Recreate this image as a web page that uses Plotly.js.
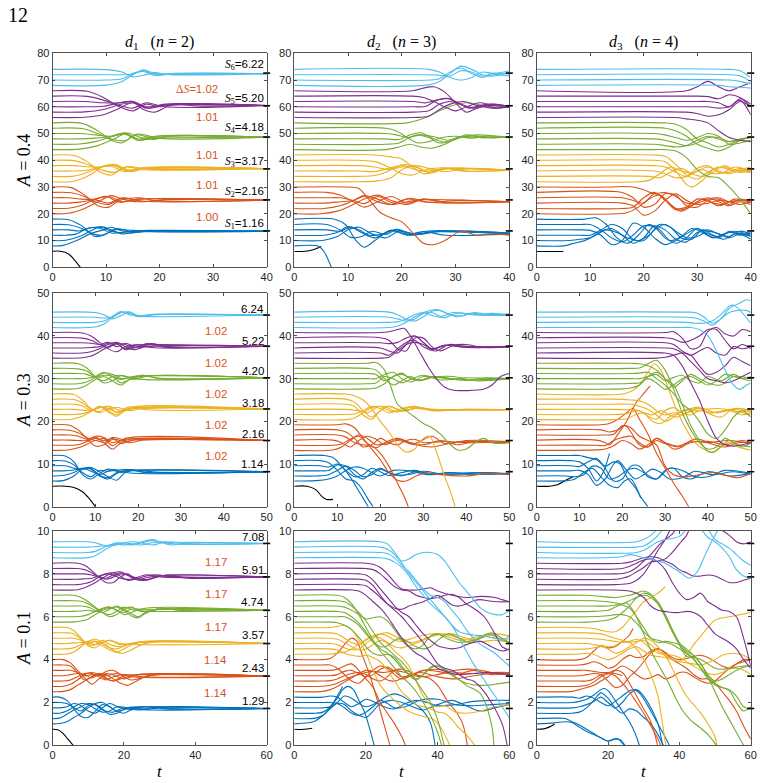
<!DOCTYPE html>
<html><head><meta charset="utf-8">
<script src="https://cdn.plot.ly/plotly-3.0.1.min.js"></script>
<style>html,body{margin:0;padding:0;background:#fff}#chart{width:763px;height:783px}</style>
</head><body><div id="chart"></div>
<script>
// ---------- DATA (each line: flat list t0,y0,t1,y1,...) ----------
// Row 1: d1/d2/d3, A=0.4
const r1c1_black=[[0,6,1.5,6,3,5,4,3,5.2,0]];
const r1c1_blue=[
[0,18,3,17.8,5.5,15.5,8,11.5,10,12.5,12,14.5,15,13.2,19,13.7,25,13.4,40,13.5],
[0,16,3,15.9,5.5,14.5,7.5,12.5,9.5,12,11.5,14,15,13.8,20,13.3,40,13.5],
[0,14,3,14,5,13.6,7,14.8,9,14.5,11,12.8,14,13.3,18,13.8,40,13.5],
[0,12,2.5,12,4.5,12.5,6.5,14.5,9,15,11,13.5,14,12.8,18,13.6,40,13.5],
[0,10,2.5,10.1,5,11.5,7,13.5,9,15.2,11,14,13,12.5,17,13.5,40,13.5],
[0,8,2,8.2,4.5,10,7,12.5,9.5,14,11,15,13,13.6,18,13.3,40,13.5]];
const r1c1_orange=[
[0,30,3.5,29.8,6,27,8.5,23,10.5,22.5,12.5,25,16,26,20,24.8,40,25.1],
[0,28,3.5,27.9,6,26.5,8,24.5,10.5,23.5,13,25.8,17,24.6,22,25.3,40,25.1],
[0,26,3,26,5.5,25.5,8,25.5,10,26.5,12.5,24.3,16,25.5,40,25.1],
[0,24,3,24,5.5,24.5,8,25.2,10.5,24,13,26,17,24.7,40,25.1],
[0,22,3,22.1,5.5,23.2,8,25.5,10.5,26.5,13,24.5,16,25.5,40,25.1],
[0,20,3,20.2,6,22,8.5,24.5,11,26.8,13,25.5,16,24.5,21,25.3,40,25.1]];
const r1c1_yellow=[
[0,42,4,41.8,6.5,39.5,9,35.5,11,34.5,13.5,37.5,17,36.5,40,36.9],
[0,40,4,39.9,6.5,38.5,9,36.5,11.5,35.5,14,37.6,18,36.7,40,36.9],
[0,38,4,38,6.5,37.6,9,37.5,11,37.8,13.5,35.8,17,37.3,40,36.9],
[0,36,4,36,6.5,36.3,9,37.5,11.5,38,14,36,18,37.2,40,36.9],
[0,34,4,34.1,6.5,35.5,9,37.5,11.5,38.5,14,36.5,18,37,40,36.9],
[0,32,4,32.2,7,34.5,9.5,37.8,12,38.2,14.5,35.8,18,37.2,40,36.9]];
const r1c1_green=[
[0,54,5.5,53.8,8.5,51,11,47.5,13,46.5,15.5,49.5,19,48.2,22,49.2,40,48.6],
[0,52,5.5,51.9,8.5,50,11,48,13.5,47.3,16,49.8,20,48.2,40,48.6],
[0,50,5,50,8,49.5,11,49,13.5,49.8,16,47.5,20,49,40,48.6],
[0,48,5,48,8,48.3,11,49,13.5,50.3,16,48,20,49.2,40,48.6],
[0,46,5,46.1,8,47,11,48.8,13.5,50,16,47.5,19,48.2,40,48.6],
[0,44,5,44.2,8.5,45.5,11.5,48,14,50.2,16.5,48.5,19,47.8,22,49,40,48.6]];
const r1c1_purple=[
[0,66,6.5,65.8,9.5,63.5,12.5,60,15,58.5,17.5,61,20,60,23,61,27,60.3,40,60.5],
[0,64,6.5,63.9,9.5,62.5,12.5,60.5,15,59.5,17.5,61.5,21,60,40,60.5],
[0,62,6,62,9.5,61.5,12.5,61.5,15,62,17.5,59.5,21,61,40,60.5],
[0,60,6,60,9.5,60.2,12.5,61.5,15,62,17.5,60,21,60.8,40,60.5],
[0,58,6,58.1,9.5,59,12.5,60.8,15,61.5,18,59.5,22,61,40,60.5],
[0,56,6,56.1,9.5,57,12.5,59.5,15,61.5,17,59,19,58,22,60.5,26,60.8,40,60.5]];
const r1c1_cyan=[
[0,74,10,73.9,13,73,15,71.2,17,71.8,19,72.8,22,72,40,72.4],
[0,72,10,72,13,72,15,72.2,17,73.5,19,72,23,72.5,40,72.4],
[0,70,10,70,13,70.5,15,72.5,17,73.2,19,71.8,23,72.4,40,72.4],
[0,68,10,68.1,13,69.5,15,72,17,73.8,19,72.5,23,72.1,40,72.4]];

const r1c2_black=[[0,5.9,2,6,3.5,6.6,5,7.8]];
const r1c2_blue=[
[0,18,7.5,18,9.5,16,11.5,10,13,7.5,15,10,18,13.8,21,12,24,13.4,28,12,40,12.5],
[0,16,6,16,8.5,14,10.5,11.2,12.5,11.5,14.5,13.5,17,12.3,19,14,22,12,26,13.5,40,12.8],
[0,14,6,14,8.5,13.5,10.5,15,12.5,13,15,11,18,13.8,21,12.3,25,13.6,40,12.8],
[0,12,5.5,12,8,13,10,15.2,12,14,14,12,16.5,12.5,19,14.2,22,12.5,26,13.3,40,12.6],
[0,10,5.5,10.1,8,11.5,10,14,12,15,14.5,12.5,17,11,19.5,13.5,23,12.3,27,13.4,40,12.5],
[0,8,4.5,7.9,5.5,6,6.9,0]];
const r1c2_orange=[
[0,30,10,30,12,29.5,14,25,16,20.5,18,18.5,20,17,22,13,24,9,26,8.5,28,10,31,13.5,34,12,37,12.5,40,12],
[0,28,6,28,8.5,27,11,24.5,13,22.5,15.5,24.5,18,26.5,21,24,24,25.5,28,24.2,40,24.5],
[0,26,6,26,8.5,26,11,25,13,23.8,15.5,26.5,18.5,24,21.5,25.8,25,24.3,40,24.5],
[0,24,5.5,24,8.5,24.5,11,25,13,26.5,15.5,24.5,18,23.5,21,25.5,25,24.3,30,25,40,24.5],
[0,22,5.5,22,8.5,23,11,25,13,26.8,15.5,25.5,18,23.5,21,24.5,24,25.3,40,24.5],
[0,20,5,20,8,21,10.5,23,13,25.5,15.5,27,18,25,21,23.5,24,25.5,28,24.5,40,24.5]];
const r1c2_yellow=[
[0,42,15,42,18,41.3,20,40.5,22,37.5,24,35,26,35.5,28,37,31,36,40,36.3],
[0,40,12,40,15,39.5,17.5,37.5,20,35,22,34.5,24.5,36.5,28,37.2,32,36,40,36.3],
[0,38,12,38,15,37.5,17.5,36.5,20,37.5,22.5,37.5,25,35.5,28,36.8,40,36.3],
[0,36,12,36,15,35.8,17.5,37,20,38,22.5,36.5,25,36,28,37,40,36.3],
[0,34,12,34,15,34.3,17.5,36,20,38.3,22.5,37.8,25,35.5,29,37,40,36.3],
[0,32,12,32,15.5,32.3,18,33.5,20,36.5,22.5,38,25,37,28,35.8,32,36.8,40,36.3]];
const r1c2_green=[
[0,54,21,54,23,55,25,56.5,27,58.5,29.5,60.5,32,61.5,35,60.5,37,59.5,40,60],
[0,52,17,52,19,51,21,48.5,23,46.5,25,47,27.5,48.5,30,49,33,48.3,36,49,40,48.5],
[0,50,17,50,19,49.5,21,48.5,23,49.5,25,48.5,27,46.5,29.5,47.5,32,49.5,35,48.5,40,48.7],
[0,48,17,48,19.5,47.8,21.5,49.5,23.5,50.3,26,48,28,46.8,31,48.5,34,49.5,40,48.5],
[0,46,17,46,19.5,46.5,21.5,48.5,23.5,49.5,26,48.8,28.5,47.5,31,48.8,35,48.5,40,48.7],
[0,44,17,44,19.5,45,21.5,46,23.5,45,25.5,44.5,28,46,30.5,48.5,33,49.2,37,48.4,40,48.7]];
const r1c2_purple=[
[0,66,22,66,24,67,26,67.5,28,65.5,30,61.5,32,58,34,59.5,37,61,40,60],
[0,64,22,64,24,63.5,26,62,28,60,30,58.5,32,60,34.5,61.5,37,60.5,40,60.5],
[0,62,22,62,24.5,61.5,26.5,62.5,28.5,63,30.5,61.5,32.5,59.5,35,60.5,38,59.5,40,60],
[0,60,22,60,24.5,60.2,26.5,62.5,28.5,63.2,31,61,33,59.8,36,61,40,60.2],
[0,58,22,58,25,58.5,27,61,29,62,31,60.8,33.5,59.5,36,60.5,40,59.8],
[0,56,22,56,25,56.5,27,59,29,61,31.5,62,34,60.5,37,59.5,40,60]];
const r1c2_cyan=[
[0,74,25,74,27,73,29,71,31,70,33,71,35,73,37,72.5,40,73.5],
[0,72,25,72,27,71.8,29,71.5,31,73.5,33,73,35,71.5,37,72.5,40,72.2],
[0,70,25,70,27,70.5,29,73,31,74.5,33,72.5,35,71,37,72,40,71.5],
[0,68,25,68.2,27,69.5,29,72.5,31,75.2,33,74,35,72,37,71.5,40,73]];

const r1c3_black=[[0,5.9,5,5.9]];
const r1c3_blue=[
[0,18,9,18,11,18.5,13,16,15,11,17,9,19,12,21,16,23,14,25,10,27,11.5,29,14.5,31,13,33,11,35,12.5,37,13.5,40,12],
[0,16,8,16,10,16,12,14,14,11,16,9.5,18,12,20,15.5,22,15,24,11,26,9,28,11,30,14.5,32,12.5,34,11.5,36,13,38,12.5,40,10.5],
[0,14,8,14,10,13.8,12,12,14,8.5,16,10,18,16.5,20,15,22,11,24,8.5,26,10,28,12.5,30,14.5,32,12,34,11,36,13.5,38,12,40,13],
[0,12,8,12,10,12,12,14,14,16,16,14.5,18,10.5,20,10,22,14,24,16,26,13.5,28,11,30,11.5,32,13.5,34,12.5,36,11,38,12.5,40,11.5],
[0,10,6,10,8,10.5,10,11,12,13.5,14,14.5,16,12,18,9,20,11,22,15.5,24,14,26,10.5,28,9.5,30,13,32,14,34,12.5,36,11.5,38,13.5,40,12.5],
[0,8,5,8,7,9,9,10,11,12,13,14,15,13,17,11,19,10,21,12,23,16,25,15,27,11,29,10.5,31,14,33,12,35,10.5,37,12.5,40,12]];
const r1c3_orange=[
[0,30,14,30,16,30.2,18,30,20,29,22,27.5,24,28,26,26.5,28,24,30,24,32,25.5,34,26,36,24.5,38,25,40,24.5],
[0,28,16,28,18,26,20,22.5,22,23.5,24,27.5,26,27,28,23,30,22.5,32,25,34,25.5,36,23.5,38,25.5,40,24],
[0,26,16,26,18,25,20,24,22,27.5,24,25.5,26,22,28,22.5,30,25.5,32,25,34,23,36,24.5,38,25,40,25.5],
[0,24,16,24,18,23,20,19.5,22,21,24,25,26,27.5,28,25,30,23.5,32,24,34,25,36,24.5,38,23.5,40,24.5],
[0,22,16,22,18,22.5,20,26,22,28,24,25,26,21.5,28,22,30,24.5,32,26,34,24.5,36,23,38,24.5,40,23.5],
[0,20,15,20,17,20.5,19,22.5,21,25.5,23,27,25,23.5,27,21,29,23,31,25.5,33,24,35,23.5,37,25.5,40,24.5]];
const r1c3_yellow=[
[0,42,22,42,24,41.5,26,38.5,28,34.5,30,33,32,35.5,34,37.5,36,36.5,38,35.5,40,36.5],
[0,40,22,40,24,39.5,26,36,28,31,29,30,31,32.5,33,36.5,35,37.5,37,36,40,35.5],
[0,38,22,38,24,37.5,26,35.5,28,34,30,36,32,37.5,34,36,36,35,38,36.5,40,37.5],
[0,36,22,36,24,35,26,33.5,28,34,30,37,32,38,34,35.5,36,35.5,38,37,40,35.5],
[0,34,21,34,23,33.5,25,35.5,27,37,29,35,31,34,33,35.5,35,38,37,36.5,40,36],
[0,32,19,32,21,32.5,23,35,25,37.5,27,36,29,35.2,31,36.5,33,35,35,35.5,37,37.5,40,36]];
const r1c3_green=[
[0,54,24,54,26,53.5,28,51.5,30,48,32,46.5,34,45,36,46,38,47.5,40,48.5],
[0,52,24,52,26,51,28,49,30,46,32,44.5,34,43.5,36,45,38,47.5,40,49],
[0,50,22,50,24,49.5,26,48.5,28,47.5,30,48.5,32,50,34,49,36,46,38,46.5,40,47.5],
[0,48,22,48,24,47.5,26,46.5,28,45.5,30,46.5,32,48.5,34,48.5,36,47,38,47.5,40,47],
[0,46,22,46,24,45.5,26,45,28,45.5,30,47.5,32,49,34,48,36,47,38,48,40,48.5],
[0,44,22,44,24,44,26,43.5,28,41,30,36.5,32,34,34,33.5,36,30,38,25.5,40,20]];
const r1c3_purple=[
[0,66,28,66,30,67.5,32,69.5,34,67.5,36,66,38,67.5,40,69],
[0,64,28,64,30,64,32,63.8,34,63,36,64.5,38,63.5,40,60],
[0,62,30,62,32,62,34,61.5,36,60,38,63,40,61],
[0,60,30,60,32,60,34,59.5,36,60,38,62.5,40,57],
[0,58,28,58,30,57.5,32,56.5,34,57,36,59,38,62,40,60],
[0,56,26,56,28,55.5,30,55,32,54,34,51,36,48.5,38,47.5,40,47]];
const r1c3_cyan=[
[0,74,36,74,38,73.5,40,71],
[0,72,36,72,38,71.5,40,69.5],
[0,70,36,70,38,69.5,40,68.5],
[0,68,34,68,36,67.5,38,67.3,40,67]];

// Row 2: A=0.3
const r2c1_black=[[0,4.8,3,4.8,5,4.5,7,3.5,8.5,2,10,0]];
const r2c1_blue=[
[0,12,3,11.9,5,10.5,7,7.5,9,6.5,11,7.8,13,8.8,16,8,19,8.6,24,8.1,50,8.2],
[0,10.8,3,10.7,5,9.8,7,8,9,7,11,8.5,13,8.3,17,8.7,22,8,50,8.2],
[0,9.6,3,9.6,5,9,7,8.8,9,9,11,7.3,13,6.8,15,8,18,8.5,50,8.2],
[0,8.4,2.5,8.4,5,8.6,7,9,9,8.3,11,7.5,14,8.7,18,7.9,50,8.2],
[0,7.2,2.5,7.3,5,8,7,9,9,8.8,11,7.2,13,6.5,15,7.8,18,8.7,22,8,50,8.2],
[0,6,2.5,6.1,5,7.2,7,8.8,9,9.2,11,8.2,13,7,15,6.2,17,8,20,8.5,50,8.2]];
const r2c1_orange=[
[0,19.2,4,19.1,6,18,8,16,10,14.2,12,14.5,14,15.8,17,15.3,20,15.7,50,15.5],
[0,18,4,17.9,6,17.3,8,16.2,10,15.5,12,16,14,14.3,17,16,50,15.5],
[0,16.8,4,16.8,6,16.5,8,15.8,10,16.3,12,15,14,13.5,16,15,18,15.8,50,15.5],
[0,15.6,4,15.6,6,15.5,8,15.5,10,16.5,12,16.2,14,15,17,15.8,50,15.5],
[0,14.4,4,14.4,6,14.5,8,15.2,10,16,12,15.5,14,16,16,14.8,19,15.7,50,15.5],
[0,13.2,3.5,13.3,6,13.8,8,14.6,10,15.5,12,15,14,16.2,16,15.8,18,15,21,15.6,50,15.5]];
const r2c1_yellow=[
[0,26.4,5,26.3,7,25,9,23,11,22,13,22.8,15,23.3,18,22.5,21,23,50,22.9],
[0,25.2,5,25.1,7,24.3,9,22.8,11,22.3,13,23.5,16,22.5,20,23.1,50,22.9],
[0,24,5,24,7,23.6,9,22.5,11,23.5,13,22.2,15,21.2,17,22.8,20,23.3,50,22.9],
[0,22.8,5,22.8,7,22.6,9,22.5,11,23.2,13,23.5,15,22,18,23,50,22.9],
[0,21.6,5,21.6,7,21.8,9,22.4,11,23.5,13,22.5,15,21.5,17,22.5,19,23.4,50,22.9],
[0,20.4,4.5,20.5,7,21.2,9,22.3,11,23.3,13,23,15,22.2,18,23.4,22,22.7,50,22.9]];
const r2c1_green=[
[0,33.6,6,33.5,8,32.5,10,30.5,12,29,14,29.5,16,30.7,19,29.8,22,30.6,50,30.2],
[0,32.4,6,32.3,8,31.8,10,30.3,12,29.5,14,30.5,16,30.8,20,29.9,50,30.2],
[0,31.2,6,31.2,8,31,10,30.3,12,30.8,14,30.5,16,29,18,29.8,21,30.6,50,30.2],
[0,30,6,30,8,30.1,10,30.5,12,31.5,14,30.5,16,29.8,19,30.5,50,30.2],
[0,28.8,6,28.8,8,29.2,10,30.3,12,31.3,14,31,16,30,18,30.3,21,30.8,25,30.1,50,30.2],
[0,27.6,6,27.7,8,28.5,10,29.8,12,30.5,14,29.5,16,28.5,18,29.8,21,30.8,25,30,50,30.2]];
const r2c1_purple=[
[0,40.8,7,40.7,9,40,11,38.5,13,37,15,36.3,17,37.5,20,37.9,23,37.3,50,37.6],
[0,39.6,7,39.5,9,39,11,38,13,37.3,15,38.2,17,36.8,20,37.5,50,37.6],
[0,38.4,7,38.4,9,38.3,11,38,13,38.5,15,37.5,17,38.3,20,37.2,23,38.2,27,37.5,50,37.6],
[0,37.2,7,37.2,9,37.3,11,37.5,13,38.3,15,38.2,17,37,19,37.8,23,38,50,37.6],
[0,36,7,36,9,36.3,11,37,13,38,15,38.5,17,37.5,19,36.8,22,37.5,50,37.6],
[0,34.8,7,34.9,9,35.3,11,36.3,13,37.5,15,38.2,17,38,19,37.2,22,38.2,26,37.4,50,37.6]];
const r2c1_cyan=[
[0,45.6,10,45.5,12,45,14,44,16,44.8,18,45.6,20,44.7,24,45.1,50,44.9],
[0,44.4,10,44.4,12,44.2,14,44.5,16,45.5,18,45.2,20,44.5,24,45,50,44.9],
[0,43.2,10,43.2,12,43.5,14,44.6,16,45.7,18,45,21,44.6,50,44.9],
[0,42,10,42.1,12,42.8,14,44.3,16,45.5,18,45.6,20,44.8,24,45.1,50,44.9]];

const r2c2_black=[[0,4.8,3,4.8,5,4,6.5,2.3,7.5,1.7,9,1.7]];
const r2c2_blue=[
[0,12,7,12,9,11.5,11,9.5,13,7,14.5,4.5,16,2,17.2,0],
[0,10.8,6,10.8,8,10.3,10,8.5,12,6.5,14,6,15.5,4.5,17,2,18.3,0],
[0,9.6,6,9.6,8,9.3,10,10,12,8.5,14,7,16,7.5,18,9,20,8.2,22,7.3,25,8,28,8.5,32,7.5,36,8,40,7.8,45,8,50,7.7],
[0,8.4,6,8.4,8,8.5,10,9.8,12,9.5,14,7.5,16,6.5,18,8,20,9,22,8,25,7.2,28,8.2,32,7.8,40,7.6,50,7.8],
[0,7.2,5,7.2,8,7.5,10,8.5,12,9.5,14,8.5,16,7,18,7.5,20,8.8,23,7.5,27,7.6,30,8.3,35,7.6,42,8,50,7.6],
[0,6,5,6.1,8,6.5,10,7.2,12,8.5,14,9.3,16,9,18,8,20,7.2,23,8.5,27,8.4,31,7.5,36,8,42,7.6,50,7.8]];
const r2c2_orange=[
[0,19.2,10,19.2,12,19.4,14,18.5,16,16,18,13.5,20,11,22,8,24,6.2,26,6,28,7,30,7.8,34,7.5,40,7.2,45,7.8,50,7.5],
[0,18,10,18,12,17.5,14,16,16,14,18,14.5,20,16,22,15,24,14.5,26,15.5,28,15.8,30,15,35,15.3,40,15,50,15.2],
[0,16.8,10,16.8,12,16.3,14,15,16,14.5,18,14.2,20,12.5,22,9.5,24,5.5,25.5,2.5,26.5,0],
[0,15.6,9,15.6,11,15,13,14,15,15.5,17,16.5,19,15.8,21,14.5,24,15.8,28,14.8,32,16.5,35,14.8,40,15.5,45,15.5,50,15.2],
[0,14.4,9,14.4,11,14.7,13,15.8,15,16.5,17,14.8,19,13.8,21,15,24,16,27,15,30,14.5,34,15.5,38,14.5,42,15.3,46,15,50,15.5],
[0,13.2,9,13.3,11,14,13,15.5,15,16.8,17,16,19,14.5,21,14.8,24,15.5,28,14.5,32,14,36,14.8,40,15.3,50,15]];
const r2c2_yellow=[
[0,26.4,12,26.4,14,26,16,25,18,23,20,20,22,17.5,24,14.5,26,12.8,28,13.5,30,16,31.5,16.5,33,13,35,7,36.5,3,37.4,0],
[0,25.2,12,25.2,14,24.5,16,22.5,18,21,20,22.5,22,23.5,25,22.5,28,23,32,22.8,40,22.7,50,22.7],
[0,24,12,24,14,23.5,16,21.5,18,20.5,20,22.5,22,23.5,25,22.5,28,23,32,22.8,40,22.7,50,22.7],
[0,22.8,12,22.8,15,22.5,17,22,19,23.2,21,23.5,23,22.5,26,22.5,29,23.2,33,22.6,40,22.8,50,22.7],
[0,21.6,12,21.6,14,21.7,16,22.5,18,23.5,20,23,22,22,25,23,28,23.5,32,22.5,40,22.8,50,22.7],
[0,20.4,12,20.4,14,20.8,16,22,18,23.2,20,23.5,22,22.5,24,22.2,27,23.3,31,22.8,40,22.6,50,22.7]];
const r2c2_green=[
[0,33.6,17,33.6,19,33.8,21,32,22.5,28,24,24,26,22.5,28,21,30,19.5,32,18.5,34,17,36,14.8,38,13.3,40,13.5,42,15,44,16,46,15,48,14.8,50,15],
[0,32.4,17,32.4,19,32,21,30,23,28.5,25,29.5,27,30.5,29,29.5,32,30.5,36,30,40,29.8,50,30],
[0,31.2,17,31.2,19,31,21,29.5,23,30.5,25,31.3,27,30,30,29.8,33,30.5,38,29.8,50,30],
[0,30,17,30,19,30,21,31,23,31.5,25,30,27,29.2,30,30.5,34,30.2,40,29.6,45,30.2,50,30],
[0,28.8,17,28.8,19,29,21,30.5,23,30,25,29,27,29.8,30,30.8,34,29.7,40,30.2,50,29.8],
[0,27.6,17,27.6,19,27.8,21,28.8,23,30.5,25,31,27,30.2,29,29.5,32,30.3,37,30.5,42,29.5,50,30]];
const r2c2_purple=[
[0,40.8,20,40.8,22,41,24,41.5,25.5,41.8,27,40,29,36.5,31,33,33,30,35,28,37,27.3,40,27.2,44,27.5,46,28.5,48,30.5,50,31.2],
[0,39.6,20,39.6,22,39,24,37,26,36.5,28,39.5,30,39.5,32,37.5,34,36.5,37,37.8,40,38,44,37.3,50,37.5],
[0,38.4,20,38.4,22,38.2,24,38.5,26,39.5,28,40,30,38.5,32,37,35,37.8,40,37.4,50,37.6],
[0,37.2,20,37.2,22,36.5,24,36,26,38,28,40,30,38.5,32,36.8,35,37.8,40,37.3,50,37.5],
[0,36,20,36,22,35.5,24,37,26,38.5,28,39,30,37.5,33,36.5,36,38,40,37.5,50,37.6],
[0,34.8,20,34.8,22,35,24,36.5,26,38,28,38.5,30,38,32,37,35,37.8,40,37.6,50,37.4]];
const r2c2_cyan=[
[0,45.6,22,45.6,24,45,26,44,28,43.5,30,44.5,32,45.8,34,46,36,45,39,44.7,42,45.5,46,44.8,50,45],
[0,44.4,22,44.4,24,44,26,43.5,28,44,30,45.3,32,45.5,34,44.6,37,45.5,40,45.2,44,44.8,50,45],
[0,43.2,22,43.2,24,43.3,26,44,28,45,30,45.5,32,44.8,35,44.3,38,45.4,42,45,46,45.3,50,44.9],
[0,42,22,42,24,42.3,26,43.2,28,44.5,30,45.5,33,46.2,35,45.5,38,44.5,41,45.3,45,45,50,45.2]];

const r2c3_black=[[0,4.8,3,4.8,5,5.2,7,6.3,8.5,7]];
const r2c3_blue=[
[0,12,8,12,10,12,12,11.5,14,11,16,9.5,18,10.5,19.5,10,21,7,23,4.5,24.5,2,26,0],
[0,10.8,8,10.8,10,10.5,12,9,14,6,15.5,8,17,12.5],
[0,9.6,8,9.6,10,9.4,12,10.5,14,11.3,16,9,18,6,20,6.5,22,9.5,24,9.5,26,7,28,6.5,30,8.5,32,9,34,7,36,6.5,40,8.2,45,7.2,50,7.8],
[0,8.4,8,8.4,10,8.5,12,7.5,14,5,16,6.5,18,10,19,10.8,21,8.5,23,6.5,25,7.5,27,8.8,29,8,31,6.5,34,6.8,37,8.3,41,7.5,46,8.2,50,7.6],
[0,7.2,7,7.2,9,7,11,7.5,13,9.5,15,9,17,6.5,19,7,21,8.5,23,9,25,8,28,6.5,31,9,34,8.5,37,7,40,7,44,8.5,50,7.8],
[0,6,7,6.1,9,6.5,11,8,13,9,15,7,17,5,19,4.5,20.5,6,22,6.5,23.5,4,24.3,2]];
const r2c3_orange=[
[0,19.2,15,19.2,17,19.5,19,20.5,21,22,22.5,23,24,20.5,26,17,28,12.5,30,9,32,5.5,34,2.5,35.5,0],
[0,18,15,18,17,17.5,19,18,20.5,19,22,18.5,24,16.5,26,15.5,28,14.5,30,9.5,32,7.5,34,7,37,7.3,41,8,44,7.4,47,6.8,50,7.8],
[0,16.8,16,16.8,18,17,20,19,21,18.8,22,17.5,24,14.5,26,14,28,16,30,15,32,13.5,34,14,36,15.5,38,15.8,40,15,44,14,47,15,50,15],
[0,15.6,14,15.6,16,15,17,14.5,19,17,21,20,23,24,25,26.5,26.5,28.3],
[0,14.4,14,14.4,16,14.3,18,15.5,20,16.2,22,16.5,24,15,26,14,28,15.5,30,14.8,33,14,36,15,40,15.3,44,14.5,48,15.5,50,15],
[0,13.2,14,13.3,16,13.5,18,14.3,20,15.5,22,14.8,24,13.5,26,14.5,28,16,30,15,33,14.2,36,15.3,40,15,45,15.5,50,14.8]];
const r2c3_yellow=[
[0,26.4,20,26.4,22,27,24,28.5,26,31.5,27.5,33.5,29,32,31,27,33,22,35,18,37,15,39,13.5,41,12.8,43,14,45,15,47,14,50,13.3],
[0,25.2,18,25.2,22,25,24,24.8,26,24,28,22.5,30,21.5,32,22,34,21.5,36,22.5,38,23,40,22,44,22.5,48,23,50,22],
[0,24,18,24,22,24,24,23.5,26,22.8,28,21.5,30,20,32,21,34,22.5,36,23,38,23.3,40,22,43,21,46,23,50,22.5],
[0,22.8,18,22.8,22,22.7,24,22.5,26,21.2,28,20.5,30,22.5,32,23.2,34,22,36,21.5,38,22.5,42,23,46,22.5,50,21.5],
[0,21.6,18,21.6,21,21.8,23,22.5,25,22,27,20,29,19.5,31,21,33,22,36,22.8,39,23,42,22,45,22.5,48,21.5,50,22],
[0,20.4,18,20.4,21,20.6,23,21.5,25,22,27,21.5,29,22.5,31,21.5,33,21,35,22,38,22.5,42,22,45,22.8,50,22.3]];
const r2c3_green=[
[0,33.6,22,33.6,24,33.5,26,33,28,32,30,30,32,28.5,34,24,36,19,38,15.5,40,13,41.5,12.8,43,14,45,15.5,47,14.5,50,14],
[0,32.4,22,32.4,24,32.5,26,33.5,28,34.3,30,32,32,27.5,34,22,36,18,38,15,40,13.5,42,14,44,16,46,15,48,14,50,15],
[0,31.2,22,31.2,24,31.3,26,31.5,28,30,30,28.5,32,26.5,34,24,36,22.5,38,20,40,17,42,16,44,18,46,21,48,22.5,50,21],
[0,30,22,30,24,30,26,30.5,28,31,30,29.5,32,30.3,34,30.8,36,29.5,38,29,40,30.5,43,29.5,46,31,48,30,50,29.5],
[0,28.8,20,28.8,22,28.9,24,29,26,30,28,29,30,27.5,32,28.5,34,30,36,30.5,38,29.5,40,28.5,42,29.5,44,31,46,30.5,48,30,50,30.5],
[0,27.6,20,27.6,22,27.8,24,28.5,26,30.5,28,31.5,30,30,32,28,34,29.5,36,31,38,30,40,29,43,28.5,46,30.5,50,30]];
const r2c3_purple=[
[0,40.8,30,40.8,32,41,34,39.5,36,37,38,37.5,40,41,42,42,44,40.5,46,40,48,41.5,50,41],
[0,39.6,30,39.6,32,39.3,34,38.5,36,39,38,40,40,41.5,42,41.5,44,39,46,37,48,38,50,37],
[0,38.4,30,38.4,32,38,34,36.5,36,35.5,38,36.5,40,37.3,42,36,44,35.5,46,37.5,48,37,50,37.5],
[0,37.2,30,37.2,32,37,34,36,36,34,38,32,40,30,42,29.5,44,29,46,29.5,48,30.5,50,31.5],
[0,36,30,36,32,35.5,34,33,36,29,38,25,40,20,42,16,44,14.5,46,14.2,48,14.5,50,15],
[0,34.8,28,34.8,30,35,32,35.5,34,36,36,35.5,38,33,40,31,42,31.5,44,33,46,35,48,34,50,33]];
const r2c3_cyan=[
[0,45.6,35,45.6,37,45.5,39,44.5,41,43,43,44,45,46.5,47,47.5,49,48.5,50,48.3],
[0,44.4,35,44.4,37,44.2,39,43.5,41,42.5,43,44,45,45.5,47,46,49,46,50,45.5],
[0,43.2,35,43.2,37,43,39,43,41,43.5,43,45,45,47,46,47.2,48,45.5,50,43],
[0,42,34,42,36,42,38,41.5,40,40,42,36.5,44,32,46,28.5,47.5,27.5,49,28.5,50,29]];

// Row 3: A=0.1
const r3c1_black=[[0,0.75,1.5,0.73,3,0.55,4.5,0.25,5.8,0]];
const r3c1_blue=[
[0,2.25,2,2.25,4,2.1,6,1.7,8,1.35,10,1.3,12,1.6,14,1.9,16,1.8,18,1.6,22,1.75,28,1.8,35,1.7,60,1.72],
[0,2,2,2,4,1.95,6,1.75,8,1.6,10,1.85,12,1.9,14,1.65,17,1.55,20,1.75,25,1.7,30,1.8,60,1.72],
[0,1.75,2,1.75,4,1.8,6,1.95,8,1.85,10,1.6,12,1.5,14,1.75,16,1.95,19,1.75,24,1.65,30,1.75,60,1.72],
[0,1.5,2,1.5,4,1.6,6,1.8,8,1.95,10,1.9,12,1.7,14,1.55,16,1.6,18,1.8,22,1.72,28,1.65,60,1.72],
[0,1.25,2,1.27,4,1.45,6,1.65,8,1.8,10,1.95,12,1.9,14,1.7,16,1.45,18,1.5,21,1.75,26,1.8,60,1.72],
[0,1,2,1.02,4,1.1,6,1.3,8,1.5,10,1.75,12,1.95,14,2,16,1.8,18,1.6,20,1.5,22,1.65,26,1.8,32,1.7,60,1.72]];
const r3c1_orange=[
[0,4,3,4,5,3.85,7,3.5,9,3.15,11,2.85,13,3.1,15,3.35,17,3.3,20,3.1,24,3.3,60,3.23],
[0,3.75,3,3.75,5,3.7,7,3.4,9,3.05,11,3.2,13,3.35,15,3.15,17,3,20,3.25,25,3.3,60,3.23],
[0,3.5,3,3.5,5,3.5,7,3.4,9,3.25,11,3.3,13,3.25,15,3.45,17,3.5,19,3.3,22,3.05,24,3.1,28,3.3,60,3.23],
[0,3.25,3,3.25,5,3.3,7,3.35,9,3.3,11,3.15,13,3.3,15,3.25,18,3.35,22,3.2,60,3.23],
[0,3,3,3,5,3.05,7,3.2,9,3.35,11,3.35,13,3.2,15,3.05,17,3.2,20,3.3,25,3.2,60,3.23],
[0,2.75,3,2.76,5,2.85,7,3.05,9,3.3,11,3.4,13,3.3,15,3.1,17,3,20,3.15,24,3.3,60,3.23],
[0,2.5,3,2.52,5,2.6,7,2.8,9,3,11,3.2,13,3.35,15,3.3,17,3.1,19,2.9,21,2.8,23,2.95,26,3.2,30,3.3,60,3.23]];
const r3c1_yellow=[
[0,5.5,4,5.5,6,5.35,8,5,10,4.65,12,4.55,14,4.8,16,4.9,19,4.7,24,4.8,60,4.75],
[0,5.25,4,5.25,6,5.2,8,4.95,10,4.7,12,4.7,14,4.9,16,4.7,19,4.6,23,4.8,60,4.75],
[0,5,4,5,6,5,8,4.9,10,4.75,12,4.85,14,4.75,16,4.55,18,4.5,21,4.7,26,4.85,60,4.75],
[0,4.75,4,4.75,6,4.78,8,4.8,10,4.8,12,4.7,14,4.8,16,4.9,19,4.75,60,4.75],
[0,4.5,4,4.5,6,4.55,8,4.7,10,4.85,12,4.85,14,4.65,16,4.45,18,4.35,20,4.5,23,4.75,28,4.85,60,4.75],
[0,4.25,4,4.26,6,4.35,8,4.6,10,4.85,12,4.95,14,4.8,16,4.55,18,4.35,20,4.3,22,4.45,25,4.7,30,4.85,60,4.75]];
const r3c1_green=[
[0,7,6,7,8,6.9,10,6.7,12,6.45,14,6.2,16,6,18,6.1,20,6.35,22,6.45,25,6.25,30,6.35,60,6.3],
[0,6.75,6,6.75,8,6.72,10,6.6,12,6.4,14,6.2,16,6.1,18,6.25,20,6.45,23,6.3,28,6.25,60,6.3],
[0,6.5,6,6.5,8,6.5,10,6.45,12,6.3,14,6.2,16,6.35,18,6.5,20,6.35,22,6.15,24,6,26,6.2,30,6.35,60,6.3],
[0,6.25,6,6.25,8,6.27,10,6.3,12,6.25,14,6.35,16,6.45,18,6.3,20,6.1,22,6.2,26,6.4,60,6.3],
[0,6,6,6,8,6.02,10,6.1,12,6.25,14,6.4,16,6.45,18,6.3,20,6.2,22,6.35,25,6.35,60,6.3],
[0,5.75,6,5.76,8,5.8,10,5.9,12,6.1,14,6.3,16,6.4,18,6.45,20,6.3,22,6.05,24,5.95,26,6.15,30,6.4,35,6.3,60,6.3]];
const r3c1_purple=[
[0,8.5,7,8.5,9,8.4,11,8.15,13,7.85,15,7.6,17,7.6,19,7.85,21,8,23,7.8,27,7.75,32,7.95,38,7.8,60,7.86],
[0,8.25,7,8.25,9,8.2,11,8.05,13,7.85,15,7.75,17,7.85,19,8,22,7.9,26,7.7,30,7.9,60,7.86],
[0,8,7,8,9,8,11,7.95,13,7.85,15,7.8,17,7.95,19,8.05,21,7.95,24,7.75,27,7.85,33,7.95,60,7.86],
[0,7.75,7,7.75,9,7.77,11,7.8,13,7.9,15,8,17,7.95,19,7.8,22,7.75,26,7.95,31,7.85,60,7.86],
[0,7.5,7,7.5,9,7.55,11,7.65,13,7.85,15,8,17,8.05,19,7.9,21,7.7,24,7.8,28,7.95,35,7.85,60,7.86],
[0,7.25,7,7.26,9,7.35,11,7.5,13,7.7,15,7.9,17,8.05,19,8.1,21,7.95,23,7.75,26,7.7,30,7.9,36,7.85,60,7.86]];
const r3c1_cyan=[
[0,9.5,10,9.5,12,9.45,14,9.35,16,9.3,18,9.35,20,9.45,23,9.5,26,9.4,28,9.35,31,9.45,60,9.42],
[0,9.25,10,9.25,12,9.27,14,9.3,16,9.35,18,9.45,20,9.4,22,9.35,25,9.45,28,9.55,30,9.5,34,9.4,60,9.42],
[0,9,10,9,12,9.05,14,9.2,16,9.35,18,9.4,20,9.35,24,9.45,28,9.6,30,9.5,33,9.35,38,9.45,60,9.42],
[0,8.75,10,8.76,12,8.85,14,9.05,16,9.25,18,9.4,20,9.45,22,9.4,25,9.35,28,9.45,32,9.5,40,9.4,60,9.42]];

const r3c2_black=[[0,0.75,2,0.74,3.5,0.76,5,0.8]];
const r3c2_blue=[
[0,2.25,8,2.25,10,2.3,12,2.25,14,2,16,1.8,18,1.95,20,2.15,22,2.05,25,1.8,28,1.7,31,1.95,34,2.1,37,2,40,1.85,45,1.9,50,2.05,55,2.1,60,2.1],
[0,2,8,2,10,2,12,1.95,14,1.75,16,1.5,18,1.4,20,1.55,22,1.8,24,2.1,26,2.3,28,2.4,30,2.3,32,2.1,34,1.9,36,1.6,38,1.05,39.3,0],
[0,1.75,8,1.75,10,1.8,12,2,14,2.3,16,2.2,18,1.95,20,1.8,22,1.9,24,2.1,26,1.95,28,1.75,31,1.8,35,2.1,40,2.15,45,1.9,50,1.85,55,1.9,60,1.95],
[0,1.5,6,1.5,8,1.55,10,1.8,12,2.2,13.5,2.6,15,2.75,16.5,2.6,18,2.1,19.5,1.6,21,0.8,22.3,0],
[0,1.25,6,1.27,8,1.4,10,1.75,12,2.3,13.5,2.75],
[0,1,4,1.05,6,1.15,8,1.4,10,1.7,12,1.95,14,1.9,16,1.6,18,1.4,20,1.3,22,1.6,24,1.95,27,2.1,30,2,33,1.8,36,1.65,40,1.9,44,2.1,48,1.85,52,1.6,56,1.75,60,1.9]];
const r3c2_orange=[
[0,4,8,4,10,4.05,12,4.3,14,4.7,16,5,17.5,4.85,19,4.2,21,3.3,23,2.2,25,1,26.7,0],
[0,3.75,8,3.75,10,3.75,12,3.6,14,3.3,16,3,18,2.9,20,3.2,22,3.5,24,3.7,26,3.6,28,3.3,30,3.1,32,3.2,35,3.45,40,3.55,45,3.4,50,3.35,55,3.4,60,3.4],
[0,3.5,8,3.5,10,3.5,12,3.55,14,3.7,16,3.8,18,3.5,20,3.1,22,2.7,24,2,26,1.5,28,1,30,0.4,31,0],
[0,3.25,8,3.25,10,3.25,12,3.3,14,3.45,16,3.5,18,3.35,20,3.2,22,3.3,24,3.55,26,3.65,28,3.45,30,3.2,33,3.3,36,3.5,40,3.45,45,3.3,50,3.5,55,3.3,60,3.35],
[0,3,8,3,10,3.02,12,3.1,14,3.25,16,3.35,18,3.4,20,3.3,22,3.1,24,3,26,3.2,28,3.5,30,3.55,34,3.3,38,3.1,40,2.8,43,2,45,1.6,47,1,48.3,0],
[0,2.75,8,2.76,10,2.8,12,2.9,14,3.05,16,3.2,18,3.3,20,3.4,22,3.45,25,3.4,28,3.5,31,3.4,35,3.2,40,3.3,45,3.5,50,3.55,55,3.4,60,3.3],
[0,2.5,8,2.52,10,2.6,12,2.75,14,2.95,16,3.15,18,3.35,20,3.5,22,3.45,24,3.25,26,3.05,28,3,31,3.2,35,3.4,40,3.2,45,3.1,50,3.25,55,3.35,60,3.4]];
const r3c2_yellow=[
[0,5.5,10,5.5,12,5.55,14,5.6,16,5.4,18,4.9,20,4.3,22,3.5,24,2.8,26,2.4,28,2.1,30,1.8,33,1.5,36,1.35,39,1.2,41,0.8,43.4,0],
[0,5.25,10,5.25,12,5.2,14,5,16,4.8,18,4.7,20,4.9,22,5.1,24,5.2,26,5.1,28,4.9,30,4.85,33,5,36,5.15,40,5.2,44,5,48,4.85,52,5,56,5.2,60,5.1],
[0,5,10,5,12,4.95,14,4.8,16,4.6,18,4.45,20,4.5,22,4.7,24,4.9,26,4.75,28,4.4,30,4.1,32,3.7,34,3,36,2.3,38,1.9,40,1.8,42,1.85,45,1.55,48,1.5,52,1.6,56,1.8,60,1.9],
[0,4.75,10,4.75,12,4.7,14,4.55,16,4.45,18,4.5,20,4.75,22,5,24,5.2,26,5.25,28,5.1,30,4.9,33,4.8,36,4.95,40,5.15,44,5.2,48,5,52,4.85,56,4.9,60,4.8],
[0,4.5,10,4.5,12,4.45,14,4.3,16,4.2,18,4.15,20,4.2,22,4.1,24,3.9,26,3.5,28,3,30,2.5,32,2.2,34,1.9,36,1.8,38,1.7,40,1.55,42,1.5,44,1.2,46,0.8,48,0.5,50.4,0],
[0,4.25,10,4.26,12,4.3,14,4.35,16,4.5,18,4.7,20,4.95,22,5.1,24,5,26,4.8,28,4.6,30,4.55,33,4.7,36,4.9,40,5.2,44,5.1,48,4.95,52,5.1,56,5,60,4.95]];
const r3c2_green=[
[0,7,12,7,14,6.9,16,6.6,18,6.1,20,5.5,22,4.9,24,4.4,26,4,28,3.6,30,3.2,32,2.9,34,2.5,36,2,38,1.4,40,0.6,41.1,0],
[0,6.75,12,6.75,14,6.7,16,6.5,18,6.2,20,5.8,22,5.3,24,4.8,26,4.5,28,4.2,30,3.9,32,3.5,34,3,36,2.5,38,2,40,1.2,41.8,0],
[0,6.5,12,6.5,14,6.45,16,6.3,18,6.1,20,5.9,22,5.95,24,6,26,5.8,28,5.4,30,4.9,32,4.6,34,4.5,36,4.7,38,5.1,40,5.2,43,4.95,46,4.8,50,4.9,54,5.2,57,5,60,4.8],
[0,6.25,12,6.25,14,6.2,16,6,18,5.7,20,5.3,22,4.8,24,4.5,26,4.3,28,4,30,3.6,32,3.3,34,3.1,36,3.3,38,3.6,40,3.7,42,3.55,45,3.2,48,2.8,52,2.4,55,1,55.7,0],
[0,6,12,6,14,6,16,5.85,18,5.6,20,5.2,22,4.85,24,4.6,26,4.65,28,4.9,30,5,32,4.8,34,4.6,36,4.5,38,4.6,40,4.9,43,5.2,46,5,49,4.8,52,5,55,5.25,58,5,60,4.8],
[0,5.75,10,5.75,12,5.72,14,5.6,16,5.4,18,5.05,20,4.6,22,4.3,24,4.2,26,4.25,28,4.1,30,3.7,32,3.3,34,3.05,36,3.3,38,3.65,40,3.7,42,3.5,45,3.15,48,2.9,52,2.8,56,2.85,60,2.95]];
const r3c2_purple=[
[0,8.5,20,8.5,22,8.45,24,8.3,26,8,28,7.6,30,7.3,32,7.25,34,7.25,36,7.3,38,7.35,40,7.2,44,7,48,6.9,52,6.95,56,6.9,58,6.8,60,6.7],
[0,8.25,20,8.25,22,8.2,24,8,26,7.7,28,7.4,30,7.25,32,7.2,34,7,36,6.9,38,6.85,40,6.9,42,7,44,7.05,46,6.9,48,6.6,50,6.4,53,6,56,5.2,58,4.6,60,4.45],
[0,8,18,8,20,7.95,22,7.7,24,7.3,26,6.9,28,6.5,30,6.2,32,6,34,5.6,36,5.2,38,4.9,40,4.65,42,4.55,44,4.5,46,4.55,48,4.7,50,4.8,52,4.85,55,4.6,58,4.4,60,4.5],
[0,7.75,18,7.75,20,7.7,22,7.45,24,7,26,6.6,28,6.3,30,6,32,5.6,34,5.2,36,4.8,38,4.3,40,3.8,42,3.6,44,3.5,46,3.3,48,3.1,50,3,52,2.7,55,2,58,1,59.4,0],
[0,7.5,18,7.5,20,7.45,22,7.2,24,6.9,26,6.6,28,6.4,30,6.35,32,6.5,34,6.6,36,6.7,38,6.85,40,7,42,6.8,44,6.55,46,6.5,48,6.6,50,6.75,52,6.8,54,6.75,57,6.7,60,6.7],
[0,7.25,16,7.25,18,7.2,20,7,22,6.7,24,6.4,26,6,28,5.5,30,5,32,4.6,34,4.3,36,4.1,38,3.85,40,3.6,43,3.4,46,3.3,50,3.35,54,3.4,57,3.35,60,3.3]];
const r3c2_cyan=[
[0,9.5,24,9.5,26,9.4,28,9,30,8.6,32,8.7,34,8.9,36,9,38,9,40,8.9,42,8.6,44,8.1,46,7.6,48,7.2,50,6.8,52,6.4,54,6.2,56,6.1,58,6.1,60,6.3],
[0,9.25,24,9.25,26,9.15,28,8.9,30,8.5,32,8,34,7.6,36,7.2,38,6.8,40,6.4,42,6,44,5.6,46,5.3,48,5.2,50,5.15,53,5.1,56,5,58,4.9,60,5.1],
[0,9,24,9,26,8.95,28,8.75,30,8.4,32,8.1,34,7.7,36,7.3,38,7,40,6.9,42,6.7,44,6.3,46,5.9,48,5.4,50,5,52,4.7,54,4.5,56,4.3,58,4,60,3.7],
[0,8.75,24,8.75,26,8.7,28,8.55,30,8.3,32,7.9,34,7.4,36,7,38,6.6,40,6.3,42,6,44,5.6,46,5,48,4.4,50,3.8,52,3.3,54,2.8,56,2.3,58,1.8,60,1.3]];

const r3c3_black=[[0,0.75,2,0.77,3.5,0.85,5,0.98]];
const r3c3_blue=[
[0,2.25,10,2.25,12,2.2,14,2.3,16,2.2,18,2,20,1.85,22,2.05,24,2.3,26,2.55,27.5,2.6,29,2.4,31,1.9,33,1.3,35,0.7,37.2,0],
[0,2,10,2,12,2.05,14,2.15,16,2.35,18,2.6,19,2.65,20,2.55,22,2.1,24,1.6,26,1.1,27.5,0.6,28.8,0],
[0,1.75,10,1.75,12,1.8,14,1.9,16,2.05,18,2.25,20,2,22,1.75,24,2,26,2.4,28,2.6,30,2.3,32,1.75,34,1,35.3,0],
[0,1.5,10,1.5,12,1.55,14,1.75,16,2.1,18,2.45,20,2.2,22,1.75,24,1.5,26,1.7,28,1.6,30,1.3,32,1,34,0.5,35.5,0],
[0,1.25,6,1.27,8,1.25,10,1.1,12,0.95,14,0.75,16,0.55,18,0.35,20,0.2,22,0.3,23,0.28,24,0.1,24.7,0],
[0,1,5,1.05,8,1.1,10,1.05,12,0.85,14,0.65,16,0.5,18,0.35,20,0.2,22,0.3,23.5,0.25,24.7,0]];
const r3c3_orange=[
[0,4,12,4,14,4.1,16,4.4,18,4.65,20,4.55,22,4.6,24,4.85,26,5.15,27,5.45],
[0,3.75,12,3.75,14,3.8,16,3.9,18,3.8,20,3.6,22,3.7,24,4,26,4.2,28,4.1,30,4.15,32,4.4,34,4.5,36,4.3,38,4,40,3.8,42,3.6,44,3.3,46,3.1,48,3.1,50,2.9,52,2.5,54,2.1,56,1.6,58,0.9,60,0.3],
[0,3.5,12,3.5,14,3.5,16,3.45,18,3.4,20,3.4,22,3.35,24,3.25],
[0,3.25,12,3.25,14,3.3,16,3.35,18,3.3,20,3,22,2.7,24,2.8,26,3.2,28,3.5,30,3.9,32,4.3,34,4.5,36,4.35,38,4.1,40,4,42,4.05,44,4.15,46,4.2,48,4.1,50,3.9,52,3.7,54,3.6,56,3.8,58,4,60,4],
[0,3,12,3,14,3,16,3.1,18,3.3,20,3.35,22,3.25,24,2.9,26,2.5,28,2,30,1.5,32,0.9,34,0.3,34.8,0],
[0,2.75,12,2.76,14,2.8,16,2.95,18,3.2,20,3.35,22,3.5,24,3.4,26,2.9,28,2.3,30,1.7,32,1.1,33.9,0],
[0,2.5,10,2.52,12,2.6,14,2.7,16,2.8,18,3,20,3.2,22,3.5,24,3.7,26,3.55,28,3.3,30,3.1,32,3.15,34,3.3,36,3.1,38,3.2,40,3.4,42,3.4,44,3.2,46,3,48,2.9,50,3,52,3.3,54,3.6,56,3.8,58,3.9,60,4]];
const r3c3_yellow=[
[0,5.5,12,5.5,16,5.45,20,5.3,22,5.3,24,5.5,26,5.9,28,6.3,30,6.7,32,6.9,34,7.1,36,7.4],
[0,5.25,14,5.25,18,5.2,20,5.1,22,5,24,4.9,26,4.8,28,4.85,30,4.9,32,4.7,34,4.4,36,4.2,38,4,40,3.9,42,4.2,44,4.7,46,5.1,48,5.5,50,5.85,54,6,57,6.1,60,6.2],
[0,5,14,5,18,4.95,20,4.9,22,4.85,24,4.8,26,4.85,28,4.95,30,4.8,32,4.5,34,4.3,36,4.25,38,4.2,40,4.1,42,3.9,44,3.7,46,3.5,48,3.35,50,3.3,52,3.4,54,3.55,56,3.6,58,3.5,60,3.3],
[0,4.75,14,4.75,16,4.7,18,4.65,20,4.6,22,4.65,24,4.85,26,4.8,28,4.5,30,4,32,3.3,34,2.3,35,1.3,36.2,0],
[0,4.5,14,4.5,16,4.55,18,4.6,20,4.5,22,4.3,24,4.4,26,4.6,28,4.8,30,5,32,4.9,34,4.6,36,4.2,38,3.6,40,2.9,42,2.3,44,1.9,46,1.5,48,1,50,0.4,50.5,0],
[0,4.25,12,4.26,14,4.3,16,4.25,18,4.1,20,4,22,4.1,24,4.3,26,4.5,28,4.6,30,4.4,32,4.2,34,4.15,36,4.1,38,4,40,3.9,42,3.85,44,3.8,46,3.75,48,3.85,50,4,52,4.2,55,4.3,58,4.2,60,4]];
const r3c3_green=[
[0,7,14,7,18,6.95,22,6.9,26,7,28,7.1,30,7.2,32,7.05,34,6.6,36,6,38,5.3,40,4.7,42,4.3,44,4,46,3.6,48,3.2,50,2.9,52,2.7,54,2.6,56,2.3,58,1.8,60,1.7],
[0,6.75,16,6.75,20,6.7,22,6.65,24,6.6,26,6.75,28,6.9,30,7,32,6.9,34,6.6,36,6.1,38,5.4,40,4.8,42,4.4,44,4.2,46,3.8,48,3.2,50,2.5,52,1.8,54,1.2,56,0.6,58,0],
[0,6.5,16,6.5,20,6.5,22,6.55,24,6.55,26,6.4,28,6,30,5.5,32,5,34,4.8,36,4.85,38,4.8,40,4.7,42,4.5,44,4.2,46,3.8,48,3.3,50,3,52,3.1,54,3.3,56,3.5,58,3.65,60,3.7],
[0,6.25,16,6.25,20,6.3,22,6.45,24,6.6,25,6.65,27,6.3,29,5.6,31,4.8,33,4.1,35,3.5,37,2.9,39,2.2,41,1.6,43,1.2,46,0.8,48,0.5,50.4,0],
[0,6,14,6,18,6.02,20,6.05,22,6.1,24,6.1,26,6,28,5.7,30,5.3,32,5,34,4.9,36,4.8,38,4.7,40,4.5,42,4.3,44,4.05,46,3.6,48,3.1,50,2.8,52,2.7,54,2.55,56,2,58,1.6,60,1.8],
[0,5.75,14,5.75,18,5.8,20,5.85,22,5.95,24,6.2,26,6.5,28,6.9,30,7.1,32,7,34,6.7,36,6.1,38,5.4,40,4.7,42,4.15,44,4.1,46,4,48,3.8,50,3.6,52,3.55,54,3.6,56,3.65,58,3.7,60,3.7]];
const r3c3_purple=[
[0,8.5,24,8.5,26,8.55,28,8.65,30,8.75,32,8.8,34,8.75,36,8.6,38,8.45,40,8.2,42,8.05,44,7.9,46,7.9,48,7.95,50,7.9,52,7.75,54,7.6,56,7.6,58,7.7,60,7.8],
[0,8.25,24,8.25,26,8.35,28,8.5,30,8.65,32,8.7,34,8.55,36,8.2,38,7.6,40,7.1,42,6.8,44,6.9,46,7.1,48,6.7,50,6.5,52,6.3,54,6.25,56,6,58,5,60,3.7],
[0,8,22,8,24,8.02,26,8.1,28,8.3,30,8.6,32,8.9,34,9.3,36,9.6,38,9.85,39,10.1],
[0,7.75,22,7.75,24,7.8,26,7.9,28,8.1,30,8.3,32,8.55,34,8.6,36,8.7,38,9,40,9.4,42,9.8,43,10.1,46,10.3,50,10.2,54,9.8,56,9.5,58,9.4,60,9.5],
[0,7.5,22,7.5,26,7.55,28,7.7,30,8,32,8.5,34,9.1,36,9.6,37.5,10.1],
[0,7.25,22,7.25,26,7.2,28,7.1,30,6.9,32,6.5,34,6.3,36,6.25,38,6.2,40,6.2,42,6.25,44,6.2,46,6,48,5.6,50,5.2,52,5,54,4.8,56,4.5,58,4,60,3.6]];
const r3c3_cyan=[
[0,9.5,28,9.5,30,9.6,32,9.8,34,10.1,38,10.5,46,10.5,48,10.1,50,9.6,52,9.4,54,9.2,56,8.9,58,8.6,60,8.4],
[0,9.25,28,9.25,30,9.3,32,9.5,34,9.8,35.5,10.1,40,10.5,44,10.4,46,10.1,48,9.7,50,9.5,52,9.2,54,8.8,56,8.2,58,7.9,60,7.8],
[0,9,28,9,30,9.1,32,9.3,34,9.5,36,9.6,38,9.65,40,9.75,42,10.1],
[0,8.75,24,8.8,26,8.9,28,8.85,30,8.75,32,8.7,34,8.6,36,8.5,38,8.3,40,8.1,42,7.85,43,7.8,45,8.1,47,8.8,49,9.5,51,10.1]];

// converged levels (black ticks at the right edge)
const levels_A04=[13.6,25.2,36.8,48.7,60.4,72.6];
const levels_A03=[8.2,15.5,22.9,30.2,37.6,44.9];
const levels_A01=[1.72,3.23,4.75,6.30,7.86,9.42];

// annotation texts
const SV='<span style="font-family:Liberation Serif,serif">';
const S_A04=[SV+'<i>S</i><sub>1</sub></span>=1.16',SV+'<i>S</i><sub>2</sub></span>=2.16',SV+'<i>S</i><sub>3</sub></span>=3.17',SV+'<i>S</i><sub>4</sub></span>=4.18',SV+'<i>S</i><sub>5</sub></span>=5.20',SV+'<i>S</i><sub>6</sub></span>=6.22'];
const S_A04_y=[16.2,28.0,39.2,52.0,63.0,75.6];
const dS_A04=['1.00','1.01','1.01','1.01',SV+'Δ<i>S</i></span>=1.02'];
const dS_A04_y=[18.7,30.8,42,56.3,66.5];
const S_A03=['1.14','2.16','3.18','4.20','5.22','6.24'];
const S_A03_y=[9.9,17.0,24.2,31.8,38.9,46.25];
const dS_A03=['1.02','1.02','1.02','1.02','1.02'];
const dS_A03_y=[11.9,19.1,26.3,33.6,41.2];
const S_A01=['1.29','2.43','3.57','4.74','5.91','7.08'];
const S_A01_y=[2.07,3.62,5.15,6.7,8.18,9.74];
const dS_A01=['1.14','1.14','1.17','1.17','1.17'];
const dS_A01_y=[2.43,3.98,5.5,7.06,8.57];

const colTitles=['<i>d</i><sub>1</sub>   (<i>n</i> = 2)','<i>d</i><sub>2</sub>   (<i>n</i> = 3)','<i>d</i><sub>3</sub>   (<i>n</i> = 4)'];
const rowTitles=['<i>A</i> = 0.4','<i>A</i> = 0.3','<i>A</i> = 0.1'];

// ---------- BUILD ----------
const COL={black:'#000000',blue:'#0072BD',orange:'#D95319',yellow:'#EDB120',green:'#77AC30',purple:'#7E2F8E',cyan:'#4DBEEE'};
const grid=[
 [{black:r1c1_black,blue:r1c1_blue,orange:r1c1_orange,yellow:r1c1_yellow,green:r1c1_green,purple:r1c1_purple,cyan:r1c1_cyan},
  {black:r1c2_black,blue:r1c2_blue,orange:r1c2_orange,yellow:r1c2_yellow,green:r1c2_green,purple:r1c2_purple,cyan:r1c2_cyan},
  {black:r1c3_black,blue:r1c3_blue,orange:r1c3_orange,yellow:r1c3_yellow,green:r1c3_green,purple:r1c3_purple,cyan:r1c3_cyan}],
 [{black:r2c1_black,blue:r2c1_blue,orange:r2c1_orange,yellow:r2c1_yellow,green:r2c1_green,purple:r2c1_purple,cyan:r2c1_cyan},
  {black:r2c2_black,blue:r2c2_blue,orange:r2c2_orange,yellow:r2c2_yellow,green:r2c2_green,purple:r2c2_purple,cyan:r2c2_cyan},
  {black:r2c3_black,blue:r2c3_blue,orange:r2c3_orange,yellow:r2c3_yellow,green:r2c3_green,purple:r2c3_purple,cyan:r2c3_cyan}],
 [{black:r3c1_black,blue:r3c1_blue,orange:r3c1_orange,yellow:r3c1_yellow,green:r3c1_green,purple:r3c1_purple,cyan:r3c1_cyan},
  {black:r3c2_black,blue:r3c2_blue,orange:r3c2_orange,yellow:r3c2_yellow,green:r3c2_green,purple:r3c2_purple,cyan:r3c2_cyan},
  {black:r3c3_black,blue:r3c3_blue,orange:r3c3_orange,yellow:r3c3_yellow,green:r3c3_green,purple:r3c3_purple,cyan:r3c3_cyan}]];
const xmax=[40,50,60], ymax=[80,50,10], ydt=[10,10,2], xdt=[10,10,20];
const levels=[levels_A04,levels_A03,levels_A01];
const xdom=[[0.0688,0.3495],[0.3857,0.6675],[0.7034,0.9839]];
const ydom=[[0.6586,0.9319],[0.3529,0.6254],[0.0481,0.3218]];

const traces=[]; const layout={width:763,height:783,margin:{l:0,r:0,t:0,b:0},paper_bgcolor:'#fff',plot_bgcolor:'#fff',showlegend:false,annotations:[]};
const FONT='Liberation Sans, Arial, sans-serif', SERIF='Liberation Serif, Times New Roman, serif';
for(let r=0;r<3;r++){for(let c=0;c<3;c++){
  const i=r*3+c+1, xa='x'+(i===1?'':i), ya='y'+(i===1?'':i);
  const g=grid[r][c];
  for(const key of ['black','blue','orange','yellow','green','purple','cyan']){
    for(const L of g[key]){
      const xs=[],ys=[]; for(let k=0;k<L.length;k+=2){xs.push(L[k]);ys.push(L[k+1]);}
      traces.push({type:'scatter',mode:'lines',x:xs,y:ys,xaxis:xa,yaxis:ya,hoverinfo:'skip',
        line:{color:COL[key],width:1.1,shape:'spline',smoothing:0.9}});
    }
  }
  traces.push({type:'scatter',mode:'markers',x:levels[r].map(()=>xmax[r]),y:levels[r],xaxis:xa,yaxis:ya,cliponaxis:false,hoverinfo:'skip',
    marker:{symbol:'line-ew',size:5,line:{color:'#000',width:1.6}}});
  const axBase={showline:true,mirror:'ticks',linecolor:'#262626',linewidth:0.8,ticks:'inside',ticklen:3,tickcolor:'#262626',tickwidth:0.8,
    showgrid:false,zeroline:false,tickfont:{family:FONT,size:11,color:'#262626'}};
  layout['xaxis'+(i===1?'':i)]=Object.assign({},axBase,{domain:xdom[c],anchor:ya,range:[0,xmax[r]],dtick:xdt[r],tick0:0});
  layout['yaxis'+(i===1?'':i)]=Object.assign({},axBase,{domain:ydom[r],anchor:xa,range:[0,ymax[r]],dtick:ydt[r],tick0:0});
}}
// column-1 value annotations
const Sset=[[S_A04,S_A04_y,dS_A04,dS_A04_y,28.8],[S_A03,S_A03_y,dS_A03,dS_A03_y,38.2],[S_A01,S_A01_y,dS_A01,dS_A01_y,45.8]];
for(let r=0;r<3;r++){
  const i=r*3+1, xa='x'+(i===1?'':i), ya='y'+(i===1?'':i);
  const [st,sy,dt,dy,dx]=Sset[r];
  st.forEach((t,k)=>layout.annotations.push({xref:xa,yref:ya,x:xmax[r],y:sy[k],text:t,showarrow:false,xanchor:'right',yanchor:'middle',xshift:-1,
    font:{family:FONT,size:11.5,color:'#000'}}));
  dt.forEach((t,k)=>layout.annotations.push({xref:xa,yref:ya,x:(r===0&&k===4)?26.9:dx,y:dy[k],text:t,showarrow:false,xanchor:'center',yanchor:'middle',
    font:{family:FONT,size:11.5,color:'#D95319'}}));
}
const colCx=[159.6/763,401.8/763,643.7/763];
colTitles.forEach((t,c)=>layout.annotations.push({xref:'paper',yref:'paper',x:colCx[c],y:1-42.3/783,text:t,showarrow:false,xanchor:'center',yanchor:'middle',font:{family:SERIF,size:16,color:'#000'}}));
const rowCy=[1-160.3/783,1-400/783,1-638/783];
rowTitles.forEach((t,r)=>layout.annotations.push({xref:'paper',yref:'paper',x:24/763,y:rowCy[r],text:t,showarrow:false,textangle:-90,xanchor:'center',yanchor:'middle',font:{family:SERIF,size:18,color:'#000'}}));
colCx.forEach(cx=>layout.annotations.push({xref:'paper',yref:'paper',x:cx,y:1-771/783,text:'<i>t</i>',showarrow:false,xanchor:'center',yanchor:'middle',font:{family:SERIF,size:17,color:'#000'}}));
layout.annotations.push({xref:'paper',yref:'paper',x:6/763,y:1-15/783,text:'12',showarrow:false,xanchor:'left',yanchor:'middle',font:{family:SERIF,size:20,color:'#000'}});

Plotly.newPlot('chart',traces,layout,{staticPlot:true,displayModeBar:false});
</script></body></html>
